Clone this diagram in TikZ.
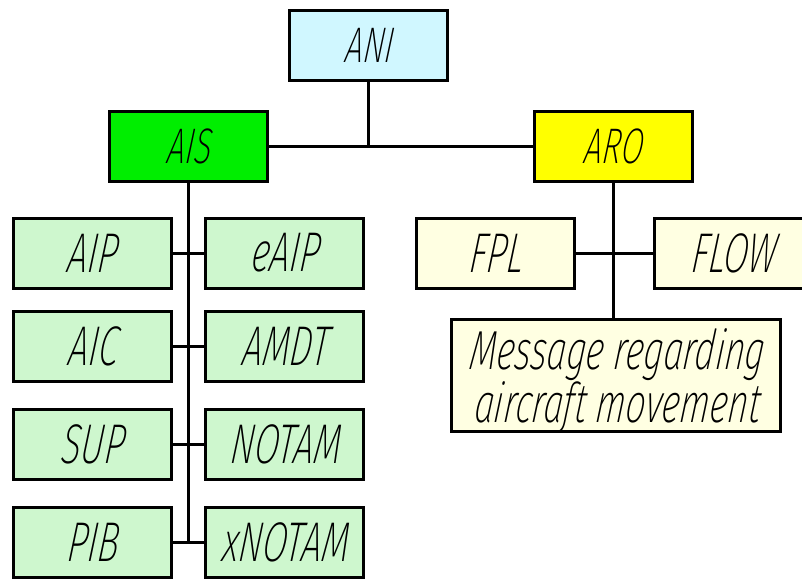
\documentclass[tikz,border=0pt]{standalone}
\usepackage{fontspec}
\newfontfamily\gost{Fira Sans ExtraLight Italic}[FakeStretch=0.64,FakeSlant=0.12]

\definecolor{anicol}{RGB}{208,247,255}
\definecolor{aiscol}{RGB}{0,238,0}
\definecolor{aroccol}{RGB}{255,255,0}
\definecolor{aisleaf}{RGB}{206,247,206}
\definecolor{aroleaf}{RGB}{255,255,226}

\begin{document}
\begin{tikzpicture}[x=1pt,y=-1pt,
  box/.style={draw, line width=3pt, minimum width=158pt, minimum height=70pt,
    inner sep=0pt, font=\gost\fontsize{50}{50}\selectfont},
  leaf/.style={box, font=\gost\fontsize{56}{45}\selectfont},
  link/.style={line width=3pt}]

  \newcommand\Lx{92};
  \newcommand\Rx{284.5};

  \useasboundingbox (0,0) rectangle (802,578);

  %% top levels
  \node[box, fill=anicol] (ani) at (368.5,45.5) {ANI};
  \node[box, fill=aiscol] (ais) at (188.5,146) {AIS};
  \node[box, fill=aroccol] (aro) at (613,146) {ARO};

  %% AIS products
  \node[leaf, fill=aisleaf] (aip) at (\Lx,253) {AIP};
  \node[leaf, fill=aisleaf] (eaip) at (\Rx,253) {eAIP};
  \node[leaf, fill=aisleaf] (aic) at (\Lx,346.5) {AIC};
  \node[leaf, fill=aisleaf] (amdt) at (\Rx,346.5) {AMDT};
  \node[leaf, fill=aisleaf] (sup) at (\Lx,444) {SUP};
  \node[leaf, fill=aisleaf] (notam) at (\Rx,444) {NOTAM};
  \node[leaf, fill=aisleaf] (pib) at (\Lx,542) {PIB};
  \node[leaf, fill=aisleaf] (xnotam) at (\Rx,542) {xNOTAM};

  %% ARO messages
  \node[leaf, fill=aroleaf] (fpl) at (495,253.5) {FPL};
  \node[leaf, fill=aroleaf] (flow) at (733,253.5) {FLOW};
  \node[leaf, fill=aroleaf, minimum width=329pt, minimum height=112pt,
    font=\gost\fontsize{55}{45}\selectfont,
    align=center, text height=94pt, text depth=0pt]
    (msg) at (616,375.5) {Message regarding\\aircraft movement};

  %% connectors
  \draw[link] (ais.east) -- (aro.west);
  \draw[link] (ani.south) -- (ani.south |- ais.east);
  \draw[link] (ais.south) -- (ais.south |- pib.east);
  \draw[link] (aip.east) -- (eaip.west);
  \draw[link] (aic.east) -- (amdt.west);
  \draw[link] (sup.east) -- (notam.west);
  \draw[link] (pib.east) -- (xnotam.west);

  \draw[link] (aro.south) -- (aro.south |- msg.north);
  \draw[link] (fpl.east) -- (flow.west);

\end{tikzpicture}
\end{document}
